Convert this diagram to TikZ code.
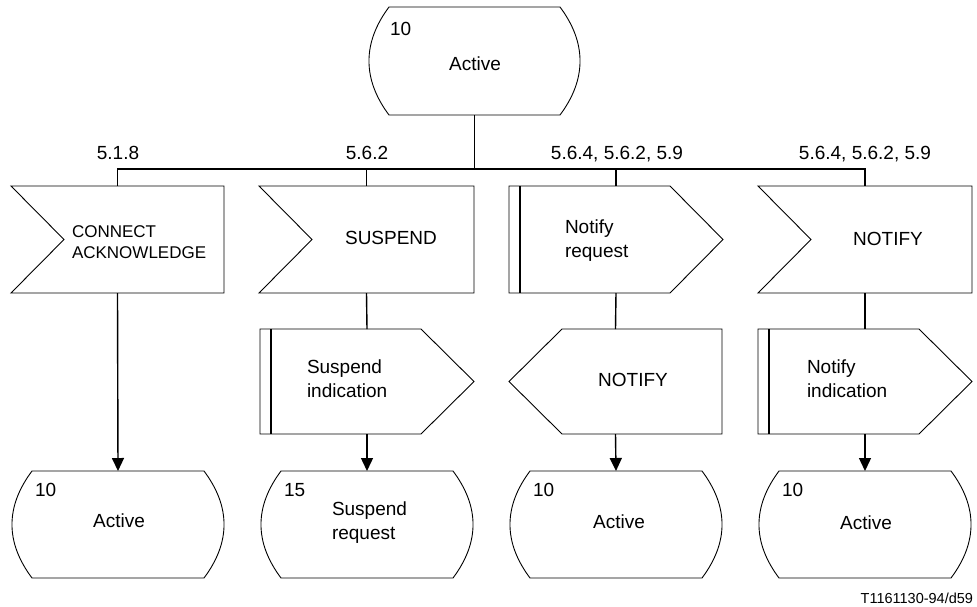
\documentclass[tikz,border=0pt]{standalone}
\usepackage{fontspec}
\setmainfont{Liberation Sans}
\usetikzlibrary{calc,arrows.meta}
\newcommand\drawstate[1]{\draw[outline] ($(#1.north west)+(20,0)$) -- ($(#1.north east)+(-20,0)$) .. controls +(26.7,35.7) and +(26.7,-35.7) .. ($(#1.south east)+(-20,0)$) -- ($(#1.south west)+(20,0)$) .. controls +(-26.7,-35.7) and +(-26.7,35.7) .. ($(#1.north west)+(20,0)$) -- cycle;}
\newcommand\drawinput[1]{\draw[outline] (#1.north west) -- (#1.north east) -- (#1.south east) -- (#1.south west) -- ($(#1.west)+(53,0)$) -- cycle;}
\newcommand\drawoutR[1]{\draw[outline] (#1.north west) -- ($(#1.north east)+(-53,0)$) -- (#1.east) -- ($(#1.south east)+(-53,0)$) -- (#1.south west) -- cycle; \draw[bar] ($(#1.north west)+(11,0)$) -- ($(#1.south west)+(11,0)$);}
\newcommand\drawoutL[1]{\draw[outline] (#1.north east) -- ($(#1.north west)+(53,0)$) -- (#1.west) -- ($(#1.south west)+(53,0)$) -- (#1.south east) -- cycle;}
\begin{document}
\begin{tikzpicture}[x=1pt,y=-1pt,
  shbox/.style={draw=none,minimum width=#1,minimum height=107pt,inner sep=0pt,outer sep=0pt},
  outline/.style={line width=0.9pt},
  conn/.style={line width=1.4pt},
  arr/.style={conn,-{Triangle[length=13pt,width=12pt]}},
  bar/.style={line width=1.6pt},
  txt/.style={font=\fontsize{19}{24}\selectfont,inner sep=0pt,outer sep=0pt},
  small/.style={font=\fontsize{17}{21}\selectfont,inner sep=0pt,outer sep=0pt},
  tiny/.style={font=\fontsize{14.5}{17}\selectfont,inner sep=0pt,outer sep=0pt}]
\useasboundingbox (0,0) rectangle (977,606);

% shape frames
\node[shbox=211pt,minimum height=108pt] (st0) at (474.5,61) {};
\node[shbox=213pt] (in1) at (117.5,239.5) {};
\node[shbox=215pt] (in2) at (366.5,239.5) {};
\node[shbox=214pt] (out3) at (616,239.5) {};
\node[shbox=214pt] (in4) at (865,239.5) {};
\node[shbox=214pt,minimum height=105pt] (out2) at (367,381.5) {};
\node[shbox=213pt,minimum height=105pt] (o3b) at (615.5,381.5) {};
\node[shbox=214pt,minimum height=105pt] (out4) at (865,381.5) {};
\node[shbox=212pt] (sb1) at (118,524.5) {};
\node[shbox=212pt] (sb2) at (367,524.5) {};
\node[shbox=212pt] (sb3) at (616,524.5) {};
\node[shbox=212pt] (sb4) at (865,524.5) {};

\drawstate{st0}
\drawstate{sb1}
\drawstate{sb2}
\drawstate{sb3}
\drawstate{sb4}
\drawinput{in1}
\drawinput{in2}
\drawinput{in4}
\drawoutR{out3}
\drawoutR{out2}
\drawoutR{out4}
\drawoutL{o3b}

% texts
\node[txt,anchor=base west] (t0n) at (390,35) {10};
\node[txt,anchor=base] (t0a) at (475,70) {Active};

\node[txt,anchor=base] (l1) at (118,159) {5.1.8};
\node[txt,anchor=base] (l2) at (367,159) {5.6.2};
\node[txt,anchor=base] (l3) at (617,159) {5.6.4, 5.6.2, 5.9};
\node[txt,anchor=base] (l4) at (865,159) {5.6.4, 5.6.2, 5.9};

\node[small,align=left,anchor=west] (t1) at (72,242.4) {CONNECT\\ACKNOWLEDGE};
\node[txt,anchor=base] (t2) at (391,244) {SUSPEND};
\node[txt,align=left,anchor=west] (t3) at (565,240.2) {Notify\\request};
\node[txt,anchor=base] (t4) at (888,245) {NOTIFY};

\node[txt,align=left,anchor=west] (t5) at (307,379) {Suspend\\indication};
\node[txt,anchor=base] (t6) at (633,386) {NOTIFY};
\node[txt,align=left,anchor=west] (t7) at (807,379) {Notify\\indication};

\node[txt,anchor=base west] (b1n) at (35,496) {10};
\node[txt,anchor=base] (b1a) at (119,527) {Active};
\node[txt,anchor=base west] (b2n) at (284,496) {15};
\node[txt,align=left,anchor=west] (b2a) at (332,523) {Suspend\\request};
\node[txt,anchor=base west] (b3n) at (533,496) {10};
\node[txt,anchor=base] (b3a) at (619,528) {Active};
\node[txt,anchor=base west] (b4n) at (782,496) {10};
\node[txt,anchor=base] (b4a) at (866,529) {Active};

\node[tiny,anchor=base east] (ref) at (973,603) {T1161130-94/d59};

% connectors
\coordinate (bus) at (474.5,169);
\draw[conn] (st0.south) -- (bus);
\draw[conn] (in1.north) |- (in4.north |- bus) -- (in4.north);
\draw[conn] (in2.north) -- (in2.north |- bus);
\draw[conn] (out3.north) -- (out3.north |- bus);

\draw[arr] (in1.south) -- (sb1.north);
\draw[conn] (in2.south) -- (out2.north);
\draw[arr] (out2.south) -- (sb2.north);
\draw[conn] (out3.south) -- (o3b.north);
\draw[arr] (o3b.south) -- (sb3.north);
\draw[conn] (in4.south) -- (out4.north);
\draw[arr] (out4.south) -- (sb4.north);
\end{tikzpicture}
\end{document}
